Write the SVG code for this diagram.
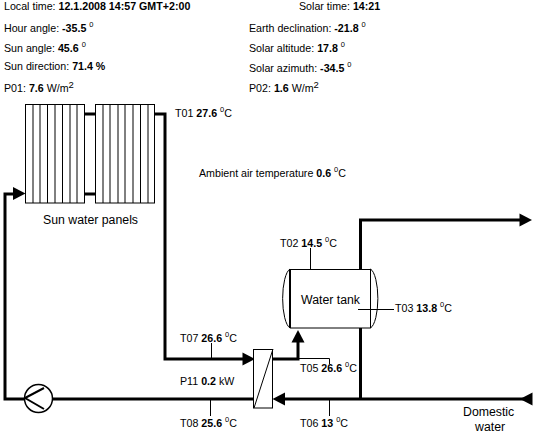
<svg xmlns="http://www.w3.org/2000/svg" width="540" height="438" viewBox="0 0 540 438">
<style>
text{font-family:"Liberation Sans",Arial,sans-serif;font-size:10.67px;fill:#000}
.b{font-weight:bold}
.s{font-size:7.5px;baseline-shift:5px}
.q{font-size:9.5px;baseline-shift:4px}
.l{font-size:12.3px}
.p{fill:none;stroke:#000;stroke-width:3;stroke-linejoin:miter}
.t{fill:none;stroke:#000;stroke-width:1}
.f{fill:#fff;stroke:#000;stroke-width:1}
</style>
<defs>
<path id="a" d="M0 0L-12.500 -6.500V6.500Z" fill="#000"/>
</defs>
<rect width="540" height="438" fill="#fff"/>
<g id="connectors">
<path class="p" d="M85 114H96M85 194H96M155 114H165V359H245"/>
<path class="p" d="M253 399H5V194H16"/>
<path class="p" d="M273 359H298V342"/>
<path class="p" d="M360.500 269V220H522M360.500 328V399M285 399H525"/>
<use href="#a" x="25.500" y="193.500"/>
<use href="#a" x="255" y="359"/>
<use href="#a" transform="translate(298 330) rotate(-90)"/>
<use href="#a" x="532" y="220"/>
<use href="#a" transform="translate(272.500 399) rotate(180)"/>
<use href="#a" transform="translate(520 399) rotate(180)"/>
<path class="t" d="M211.500 343V359M210.500 399V416M329.500 399V416M298 358.500H329.500V364M310.500 248V269M358 309.500H394"/>
</g>
<g id="panel1">
<rect class="f" x="25.500" y="104.500" width="59" height="98.500"/>
<path class="t" d="M33 104.500V203M40 104.500V203M47.500 104.500V203M55 104.500V203M62.500 104.500V203M70 104.500V203M77 104.500V203"/>
</g>
<g id="panel2">
<rect class="f" x="95.500" y="104.500" width="59" height="98.500"/>
<path class="t" d="M103 104.500V203M110 104.500V203M118 104.500V203M125 104.500V203M133 104.500V203M140.500 104.500V203M148 104.500V203"/>
</g>
<text x="43" y="224" class="l">Sun water panels</text>
<g id="tank">
<path class="t" d="M290 269A9 30 0 0 0 290 328M370.500 269A9 30 0 0 1 370.500 328"/>
<path class="t" d="M290 269.500H370.500M290 328H370.500M370.500 269V328"/>
<path d="M290 269V328" stroke="#000" stroke-width="2" fill="none"/>
<text x="301" y="304" class="l">Water tank</text>
</g>
<g id="exchanger">
<rect class="f" x="253.500" y="349.500" width="19" height="58.500"/>
<path class="t" d="M254 408L273 349"/>
</g>
<g id="pump">
<circle cx="38.500" cy="398.500" r="14" fill="#fff" stroke="#000" stroke-width="1.500"/>
<path d="M25 398L44 388M25 398L44 409" stroke="#000" stroke-width="2" fill="none"/>
</g>
<g id="labels">
<text x="4" y="10">Local time: <tspan class="b">12.1.2008 14:57 GMT+2:00</tspan></text>
<text x="299" y="10">Solar time: <tspan class="b">14:21</tspan></text>
<text x="4" y="32">Hour angle: <tspan class="b">-35.5</tspan> <tspan class="s">0</tspan></text>
<text x="4" y="52">Sun angle: <tspan class="b">45.6</tspan> <tspan class="s">0</tspan></text>
<text x="4" y="70">Sun direction: <tspan class="b">71.4 %</tspan></text>
<text x="4" y="92">P01: <tspan class="b">7.6</tspan> W/m<tspan class="q">2</tspan></text>
<text x="249" y="32">Earth declination: <tspan class="b">-21.8</tspan> <tspan class="s">0</tspan></text>
<text x="249" y="52">Solar altitude: <tspan class="b">17.8</tspan> <tspan class="s">0</tspan></text>
<text x="249" y="72">Solar azimuth: <tspan class="b">-34.5</tspan> <tspan class="s">0</tspan></text>
<text x="249" y="92">P02: <tspan class="b">1.6</tspan> W/m<tspan class="q">2</tspan></text>
<text x="175" y="117">T01 <tspan class="b">27.6</tspan> <tspan class="s">0</tspan>C</text>
<text x="199" y="177">Ambient air temperature <tspan class="b">0.6</tspan> <tspan class="s">0</tspan>C</text>
<text x="280" y="247">T02 <tspan class="b">14.5</tspan> <tspan class="s">0</tspan>C</text>
<text x="395" y="312">T03 <tspan class="b">13.8</tspan> <tspan class="s">0</tspan>C</text>
<text x="180" y="342">T07 <tspan class="b">26.6</tspan> <tspan class="s">0</tspan>C</text>
<text x="300" y="372">T05 <tspan class="b">26.6</tspan> <tspan class="s">0</tspan>C</text>
<text x="180" y="384.500">P11 <tspan class="b">0.2</tspan> kW</text>
<text x="180" y="427">T08 <tspan class="b">25.6</tspan> <tspan class="s">0</tspan>C</text>
<text x="300" y="427">T06 <tspan class="b">13</tspan> <tspan class="s">0</tspan>C</text>
<text x="463" y="416" class="l">Domestic</text>
<text x="475" y="431" class="l">water</text>
</g>
</svg>
